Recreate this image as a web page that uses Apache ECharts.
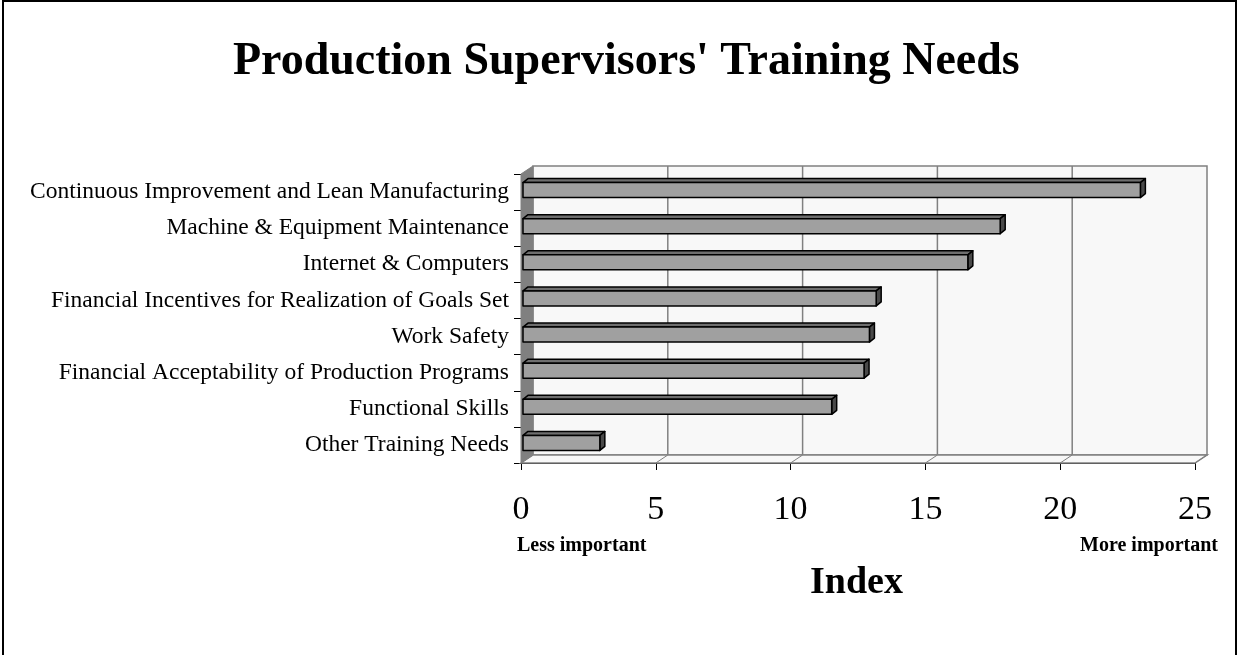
<!DOCTYPE html>
<html>
<head>
<meta charset="utf-8">
<script src="https://cdn.jsdelivr.net/npm/echarts@6/dist/echarts.min.js"></script>
<style>
  html, body { margin: 0; padding: 0; background: #fff; }
  #container { width: 1239px; height: 655px; }
</style>
</head>
<body>
<div id="container"></div>
<script>
var categories = [
    'Continuous Improvement and Lean Manufacturing',
    'Machine & Equipment Maintenance',
    'Internet & Computers',
    'Financial Incentives for Realization of Goals Set',
    'Work Safety',
    'Financial Acceptability of Production Programs',
    'Functional Skills',
    'Other Training Needs'
];
var values = [22.9, 17.7, 16.5, 13.1, 12.85, 12.65, 11.45, 2.85];
var xTicks = [0, 5, 10, 15, 20, 25];

var font = 'Liberation Serif';
var depth = [12, -8];   // offset of the back wall
var barDepth = [5, -4];  // bar top/side thickness

var dom = document.getElementById('container');
var myChart = echarts.init(dom);

var barData = values.map(function (v, i) { return [v, i]; });

function renderWalls(params, api) {
    var cs = params.coordSys;
    var x0 = cs.x, y0 = cs.y, x1 = cs.x + cs.width, y1 = cs.y + cs.height;
    var dx = depth[0], dy = depth[1];
    var children = [];
    // back wall
    children.push({
        type: 'rect',
        shape: { x: x0 + dx, y: y0 + dy, width: cs.width, height: cs.height },
        style: { fill: '#f8f8f8', stroke: '#808080', lineWidth: 1.5 }
    });
    // left wall
    children.push({
        type: 'polygon',
        shape: { points: [[x0, y0], [x0 + dx, y0 + dy], [x0 + dx, y1 + dy], [x0, y1]] },
        style: { fill: '#808080', stroke: '#808080', lineWidth: 1 }
    });
    // floor
    children.push({
        type: 'polygon',
        shape: { points: [[x0, y1], [x0 + dx, y1 + dy], [x1 + dx, y1 + dy], [x1, y1]] },
        style: { fill: '#f8f8f8', stroke: '#808080', lineWidth: 1.5 }
    });
    // grid lines on back wall + diagonals on floor
    for (var i = 1; i < xTicks.length - 1; i++) {
        var px = api.coord([xTicks[i], 0])[0];
        children.push({
            type: 'line',
            shape: { x1: px + dx, y1: y0 + dy, x2: px + dx, y2: y1 + dy },
            style: { stroke: '#808080', lineWidth: 1.5 }
        });
    }
    for (var j = 0; j < xTicks.length; j++) {
        var qx = api.coord([xTicks[j], 0])[0];
        children.push({
            type: 'line',
            shape: { x1: qx, y1: y1, x2: qx + dx, y2: y1 + dy },
            style: { stroke: '#808080', lineWidth: 1 }
        });
    }
    return { type: 'group', children: children };
}

function renderBar(params, api) {
    var val = api.value(0), idx = api.value(1);
    var pEnd = api.coord([val, idx]);
    var pStart = api.coord([0, idx]);
    var h = 15;
    var xs = pStart[0] + 2, xe = pEnd[0] + 2;
    var yt = pEnd[1] - 2 - h / 2, yb = yt + h;
    var bx = barDepth[0], by = barDepth[1];
    var edge = { stroke: '#000', lineWidth: 1.5, lineJoin: 'round' };
    return {
        type: 'group',
        children: [
            {
                type: 'polygon',
                shape: { points: [[xs, yt], [xs + bx, yt + by], [xe + bx, yt + by], [xe, yt]] },
                style: echarts.util.extend({ fill: '#6e6e6e' }, edge)
            },
            {
                type: 'polygon',
                shape: { points: [[xe, yt], [xe + bx, yt + by], [xe + bx, yb + by], [xe, yb]] },
                style: echarts.util.extend({ fill: '#4a4a4a' }, edge)
            },
            {
                type: 'rect',
                shape: { x: xs, y: yt, width: xe - xs, height: h },
                style: echarts.util.extend({ fill: '#a0a0a0' }, edge)
            }
        ]
    };
}

var option = {
    animation: false,
    backgroundColor: '#fff',
    title: {
        text: "Production Supervisors' Training Needs",
        left: 228,
        top: 34,
        textStyle: { fontFamily: font, fontSize: 46, fontWeight: 'bold', color: '#000' }
    },
    grid: { left: 521, right: 44, top: 174, bottom: 192, containLabel: false },
    xAxis: {
        type: 'value',
        min: 0,
        max: 25,
        interval: 5,
        axisLine: { show: true, lineStyle: { color: '#000', width: 1 } },
        axisTick: { show: true, length: 7, lineStyle: { color: '#000' } },
        axisLabel: { fontFamily: font, fontSize: 34, color: '#000', margin: 30 },
        splitLine: { show: false }
    },
    yAxis: {
        type: 'category',
        inverse: true,
        data: categories,
        axisLine: { show: false },
        axisTick: { show: true, length: 7, inside: false, lineStyle: { color: '#000' } },
        axisLabel: { fontFamily: font, fontSize: 23.5, color: '#000', margin: 12 },
        splitLine: { show: false }
    },
    graphic: [
        {
            type: 'rect',
            shape: { x: 3, y: 1, width: 1233, height: 700 },
            style: { fill: 'none', stroke: '#000', lineWidth: 2 },
            silent: true
        },
        {
            type: 'text', left: 517, top: 536,
            style: { text: 'Less important', font: 'bold 20px "Liberation Serif"', fill: '#000' }
        },
        {
            type: 'text', right: 21, top: 536,
            style: { text: 'More important', font: 'bold 20px "Liberation Serif"', fill: '#000' }
        },
        {
            type: 'text', left: 810, top: 564,
            style: { text: 'Index', font: 'bold 38px "Liberation Serif"', fill: '#000' }
        }
    ],
    series: [
        {
            type: 'custom',
            name: 'walls',
            z: 1,
            silent: true,
            renderItem: renderWalls,
            data: [[0, 0]],
            encode: { x: 0, y: 1 }
        },
        {
            type: 'custom',
            name: 'Index',
            z: 2,
            renderItem: renderBar,
            data: barData,
            encode: { x: 0, y: 1 }
        }
    ]
};

myChart.setOption(option);
</script>
</body>
</html>
